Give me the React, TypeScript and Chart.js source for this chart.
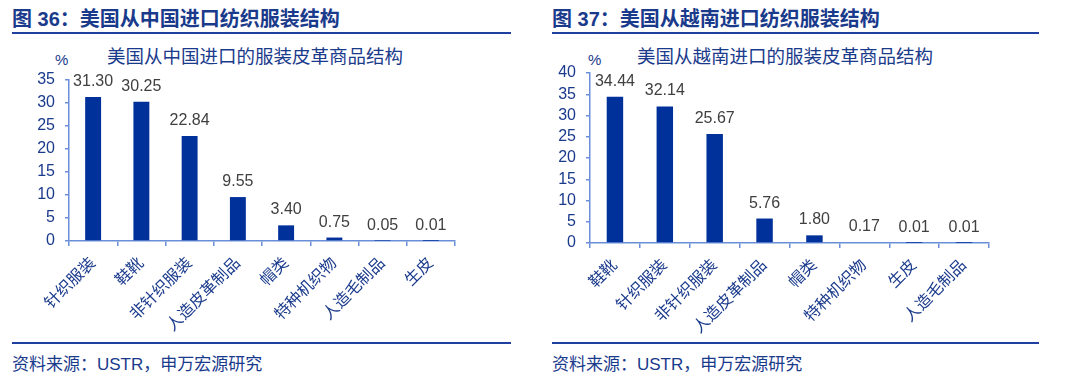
import React, { useEffect, useRef } from 'react';
import { Chart, registerables } from 'chart.js';

Chart.register(...registerables);

// ---- Data ----
const cnTitle = '图 36：美国从中国进口纺织服装结构';
const cnSubtitle = '美国从中国进口的服装皮革商品结构';
const cnCategories = ['针织服装', '鞋靴', '非针织服装', '人造皮革制品', '帽类', '特种机织物', '人造毛制品', '生皮'];
const cnValues = [31.3, 30.25, 22.84, 9.55, 3.4, 0.75, 0.05, 0.01];
const cnYMax = 35;

const vnTitle = '图 37：美国从越南进口纺织服装结构';
const vnSubtitle = '美国从越南进口的服装皮革商品结构';
const vnCategories = ['鞋靴', '针织服装', '非针织服装', '人造皮革制品', '帽类', '特种机织物', '生皮', '人造毛制品'];
const vnValues = [34.44, 32.14, 25.67, 5.76, 1.8, 0.17, 0.01, 0.01];
const vnYMax = 40;

const yStep = 5;
const unitLabel = '%';
const sourceText = '资料来源：USTR，申万宏源研究';

// ---- Styles ----
const FONT = '"Liberation Sans", Arial, "Noto Sans CJK SC", sans-serif';
const NAVY = '#1A3A8C';
const BAR = '#00309A';
const AXIS = '#6A8FD8';
const LABEL = '#404040';

const CANVAS_TOP = 40;
const CANVAS_H = 300;

type PanelProps = {
  x: number;
  lineRight: number;
  title: string;
  subtitle: string;
  subtitleLeft: number;
  unitLeft: number;
  categories: string[];
  values: number[];
  yMax: number;
  axisLeft: number;
  axisRight: number;
  axisTop: number;
  axisBottom: number;
};

function Panel(p: PanelProps) {
  const ref = useRef<HTMLCanvasElement | null>(null);
  const canvasW = p.axisRight - p.x + 20;

  useEffect(() => {
    if (!ref.current) return;
    const valueLabels = {
      id: 'valueLabels',
      afterDatasetsDraw(chart: any) {
        const ctx = chart.ctx;
        const meta = chart.getDatasetMeta(0);
        ctx.save();
        ctx.font = `16px ${FONT}`;
        ctx.fillStyle = LABEL;
        ctx.textAlign = 'center';
        ctx.textBaseline = 'alphabetic';
        meta.data.forEach((el: any, i: number) => {
          ctx.fillText(p.values[i].toFixed(2), el.x, el.y - 11);
        });
        ctx.restore();
      },
    };
    const chart = new Chart(ref.current, {
      type: 'bar',
      data: {
        labels: p.categories,
        datasets: [
          {
            data: p.values,
            backgroundColor: BAR,
            borderWidth: 0,
            barPercentage: 0.33,
            categoryPercentage: 1,
          },
        ],
      },
      options: {
        responsive: false,
        animation: false,
        events: [],
        layout: {
          padding: {
            top: p.axisTop - CANVAS_TOP,
            left: 0,
            right: canvasW - (p.axisRight - p.x),
            bottom: 0,
          },
        },
        plugins: {
          legend: { display: false },
          tooltip: { enabled: false },
          title: { display: false },
        },
        scales: {
          x: {
            offset: true,
            border: { display: true, color: AXIS, width: 1.5 },
            grid: {
              offset: true,
              drawOnChartArea: false,
              drawTicks: true,
              tickLength: 5,
              color: AXIS,
              lineWidth: 1.5,
            },
            ticks: {
              color: NAVY,
              font: { family: FONT, size: 16 },
              maxRotation: 45,
              minRotation: 45,
              autoSkip: false,
              padding: 8,
            },
            afterFit(scale: any) {
              scale.height = CANVAS_TOP + CANVAS_H - p.axisBottom;
            },
          },
          y: {
            min: 0,
            max: p.yMax,
            border: { display: true, color: AXIS, width: 1.5 },
            grid: {
              drawOnChartArea: false,
              drawTicks: true,
              tickLength: 4,
              color: AXIS,
              lineWidth: 1.5,
            },
            ticks: {
              stepSize: yStep,
              autoSkip: false,
              color: NAVY,
              font: { family: FONT, size: 16 },
              padding: 10,
            },
            afterFit(scale: any) {
              scale.width = p.axisLeft - p.x;
            },
          },
        },
      },
      plugins: [valueLabels],
    });
    return () => chart.destroy();
  }, []);

  const lineW = p.lineRight - (p.x + 12);
  return (
    <>
      <div
        style={{
          position: 'absolute',
          left: p.x + 12,
          top: 6,
          fontFamily: FONT,
          fontWeight: 'bold',
          fontSize: 20,
          color: NAVY,
          whiteSpace: 'nowrap',
          lineHeight: '26px',
        }}
      >
        {p.title}
      </div>
      <div
        style={{
          position: 'absolute',
          left: p.x + 12,
          top: 32,
          width: lineW,
          height: 2,
          background: '#1E40A0',
        }}
      />
      <div
        style={{
          position: 'absolute',
          left: p.unitLeft,
          top: 50,
          fontFamily: FONT,
          fontSize: 15,
          color: NAVY,
          lineHeight: '20px',
        }}
      >
        {unitLabel}
      </div>
      <div
        style={{
          position: 'absolute',
          left: p.subtitleLeft,
          top: 45,
          fontFamily: FONT,
          fontSize: 18.5,
          color: NAVY,
          whiteSpace: 'nowrap',
          lineHeight: '24px',
        }}
      >
        {p.subtitle}
      </div>
      <canvas
        ref={ref}
        width={canvasW}
        height={CANVAS_H}
        style={{ position: 'absolute', left: p.x, top: CANVAS_TOP, width: canvasW, height: CANVAS_H }}
      />
      <div
        style={{
          position: 'absolute',
          left: p.x + 12,
          top: 342,
          width: lineW,
          height: 2,
          background: '#1E40A0',
        }}
      />
      <div
        style={{
          position: 'absolute',
          left: p.x + 12,
          top: 353,
          fontFamily: FONT,
          fontSize: 17,
          color: NAVY,
          whiteSpace: 'nowrap',
          lineHeight: '24px',
        }}
      >
        {sourceText}
      </div>
    </>
  );
}

export default function App() {
  return (
    <div
      style={{
        position: 'fixed',
        left: 0,
        top: 0,
        width: 1080,
        height: 383,
        background: '#ffffff',
        overflow: 'hidden',
      }}
    >
      <Panel
        x={0}
        lineRight={511}
        title={cnTitle}
        subtitle={cnSubtitle}
        subtitleLeft={107}
        unitLeft={55}
        categories={cnCategories}
        values={cnValues}
        yMax={cnYMax}
        axisLeft={69}
        axisRight={455}
        axisTop={80}
        axisBottom={241}
      />
      <Panel
        x={540}
        lineRight={1039}
        title={vnTitle}
        subtitle={vnSubtitle}
        subtitleLeft={637}
        unitLeft={588}
        categories={vnCategories}
        values={vnValues}
        yMax={vnYMax}
        axisLeft={590}
        axisRight={989}
        axisTop={73}
        axisBottom={243}
      />
    </div>
  );
}
